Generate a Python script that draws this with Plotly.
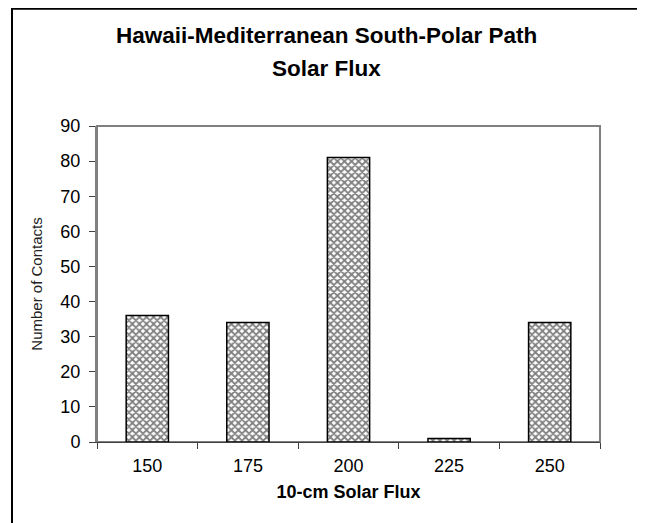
import plotly.graph_objects as go

# Values
flux_bins = ["150", "175", "200", "225", "250"]
contacts = [36, 34, 81, 1, 34]
y_ticks = [0, 10, 20, 30, 40, 50, 60, 70, 80, 90]

font_family = "Liberation Sans, Arial, sans-serif"

fig = go.Figure()

fig.add_trace(
    go.Bar(
        x=flux_bins,
        y=contacts,
        marker=dict(
            color="white",
            line=dict(color="black", width=1.5),
            pattern=dict(shape="x", size=5, solidity=0.6,
                         fgcolor="black", bgcolor="white"),
        ),
        showlegend=False,
    )
)

fig.update_xaxes(
    type="category",
    showline=True, linecolor="#404040", linewidth=1,
    ticks="outside", tickson="boundaries", ticklen=6, tickcolor="#404040",
    ticklabelstandoff=7,
    tickfont=dict(family=font_family, size=18, color="black"),
    showgrid=False,
    title=dict(text="<b>10-cm Solar Flux</b>", standoff=10,
               font=dict(family=font_family, size=18, color="black")),
)
fig.update_yaxes(
    range=[0, 90], tickvals=y_ticks,
    showline=True, linecolor="#808080", linewidth=2,
    ticks="outside", ticklen=6, tickcolor="#404040",
    ticklabelstandoff=5,
    tickfont=dict(family=font_family, size=18, color="black"),
    showgrid=False, zeroline=False,
    title=dict(text="Number of Contacts", standoff=14,
               font=dict(family=font_family, size=15, color="#222222")),
)

# title lines
fig.add_annotation(text="<b>Hawaii-Mediterranean South-Polar Path</b>",
                   xref="paper", yref="paper", x=0.457, y=1.285,
                   showarrow=False, xanchor="center", yanchor="middle",
                   font=dict(family=font_family, size=22.5, color="black"))
fig.add_annotation(text="<b>Solar Flux</b>",
                   xref="paper", yref="paper", x=0.457, y=1.183,
                   showarrow=False, xanchor="center", yanchor="middle",
                   font=dict(family=font_family, size=22.5, color="black"))

# gray plot-area frame and outer chart border
fig.add_shape(type="rect", xref="paper", yref="paper", x0=0, y0=0, x1=1, y1=1,
              line=dict(color="#808080", width=2), layer="below")
fig.add_shape(type="path", xref="paper", yref="paper",
              path="M -0.169 -0.5 L -0.169 1.371 L 1.2 1.371",
              line=dict(color="black", width=2))

fig.update_layout(
    width=645, height=523,
    margin=dict(l=89, r=53, t=118, b=89),
    paper_bgcolor="white", plot_bgcolor="white",
    bargap=0.58,
    font=dict(family=font_family),
)

fig.write_html("out.html")
